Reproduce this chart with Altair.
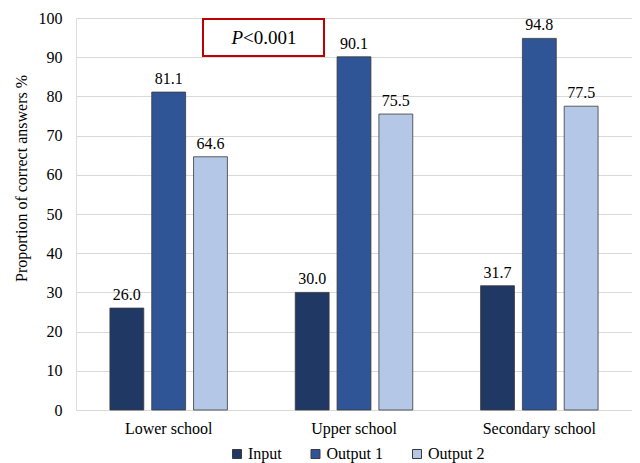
import altair as alt
import pandas as pd

schools = ["Lower school", "Upper school", "Secondary school"]
series = ["Input", "Output 1", "Output 2"]
input_vals = [26.0, 30.0, 31.7]
output1_vals = [81.1, 90.1, 94.8]
output2_vals = [64.6, 75.5, 77.5]
colors = ["#203864", "#2F5597", "#B4C7E7"]
y_ticks = [0, 10, 20, 30, 40, 50, 60, 70, 80, 90, 100]
y_title = "Proportion of correct answers %"
annot_italic = ["P"]
annot_rest = ["<0.001"]

rows = []
for s, vals in zip(series, [input_vals, output1_vals, output2_vals]):
    for sch, v in zip(schools, vals):
        rows.append({"school": sch, "series": s, "value": v, "label": f"{v:.1f}"})
df = pd.DataFrame(rows)

FONT = "Liberation Serif"

x = alt.X(
    "school:N", sort=schools, title=None,
    scale=alt.Scale(paddingInner=0.366, paddingOuter=0.183),
    axis=alt.Axis(labelAngle=0, ticks=False, domain=True, domainColor="#D9D9D9",
                  labelFontSize=16, labelPadding=10, labelColor="#000", labelFont=FONT),
)
xo = alt.XOffset("series:N", sort=series, scale=alt.Scale(paddingInner=0.19))
y = alt.Y(
    "value:Q", scale=alt.Scale(domain=[0, 100]), title=y_title,
    axis=alt.Axis(values=y_ticks, ticks=False, domain=False, grid=True, gridColor="#D9D9D9",
                  labelFontSize=16, labelPadding=14, labelColor="#000", labelFont=FONT,
                  titleFont=FONT, titleFontSize=16, titleFontWeight="normal", titleColor="#000",
                  titleX=-47, titleY=160),
)

base = alt.Chart(df)

bars = base.mark_bar(stroke="#3a3a3a", strokeWidth=0.8).encode(
    x=x, xOffset=xo, y=y,
    color=alt.Color(
        "series:N", sort=series,
        scale=alt.Scale(domain=series, range=colors),
        legend=alt.Legend(title=None, orient="none", direction="horizontal",
                          legendX=153, legendY=428,
                          symbolType="square", symbolSize=81, symbolStrokeColor="#3a3a3a",
                          symbolStrokeWidth=1, labelFont=FONT, labelFontSize=16,
                          labelColor="#000", columnPadding=25.5, labelOffset=3),
    ),
)

labels = base.mark_text(baseline="bottom", dy=-5, font=FONT, fontSize=16, color="#000").encode(
    x=x, xOffset=xo, y=y, text="label:N",
)

box = alt.Chart(pd.DataFrame({"t": annot_italic})).mark_rect(
    fill="white", fillOpacity=0, stroke="#C00000", strokeWidth=2
).encode(x=alt.value(127), x2=alt.value(248), y=alt.value(1), y2=alt.value(38))

p_text = alt.Chart(pd.DataFrame({"t": annot_italic})).mark_text(
    font=FONT, fontSize=19, fontStyle="italic", align="right", baseline="middle", color="#000"
).encode(x=alt.value(167), y=alt.value(20), text="t:N")

rest_text = alt.Chart(pd.DataFrame({"t": annot_rest})).mark_text(
    font=FONT, fontSize=19, align="left", baseline="middle", color="#000"
).encode(x=alt.value(167), y=alt.value(20), text="t:N")

chart = alt.layer(bars, labels, box, p_text, rest_text).properties(
    width=556, height=392,
    autosize=alt.AutoSizeParams(type="none"),
    padding={"left": 68, "top": 10, "right": 0, "bottom": 53},
).configure_view(stroke=None).configure(background="white")

chart.save("out.html", embed_options={"renderer": "svg", "actions": False})
